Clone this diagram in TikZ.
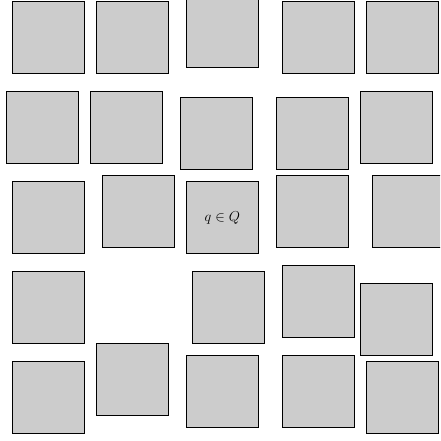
\documentclass[tikz,border=0pt]{standalone}
\begin{document}
\begin{tikzpicture}[x=1pt,y=-1pt,
  sq/.style={draw=black, fill=black!20, line width=0.8pt, minimum size=72pt, inner sep=0pt, outer sep=0pt, anchor=north west},
  lbl/.style={font=\fontsize{15}{18}\selectfont}]
\useasboundingbox (0,0) rectangle (440,441);
\clip (0,0) rectangle (440,441);
% row 1
\node[sq] (a1) at (12.3,1.7) {};
\node[sq] (a2) at (96.3,1.7) {};
\node[sq] (a3) at (186.3,-4.3) {};
\node[sq] (a4) at (282.3,1.7) {};
\node[sq] (a5) at (366.3,1.7) {};
% row 2
\node[sq] (b1) at (6.3,91.3) {};
\node[sq] (b2) at (90.3,91.3) {};
\node[sq] (b3) at (180.3,97.7) {};
\node[sq] (b4) at (276.3,97.7) {};
\node[sq] (b5) at (360.3,91.3) {};
% row 3
\node[sq] (c1) at (12.3,181.7) {};
\node[sq] (c2) at (102.3,175.7) {};
\node[sq, lbl] (c3) at (186.3,181.7) {};
\node[lbl] (q) at (c3.center) {$q\in Q$};
\node[sq] (c4) at (276.3,175.7) {};
\node[sq] (c5) at (372.3,175.7) {};
% row 4
\node[sq] (d1) at (12.3,271.7) {};
\node[sq] (d2) at (192.3,271.7) {};
\node[sq] (d3) at (282.3,265.7) {};
\node[sq] (d4) at (360.3,283.7) {};
% row 5
\node[sq] (e1) at (12.3,361.7) {};
\node[sq] (e2) at (96.3,343.7) {};
\node[sq] (e3) at (186.3,355.7) {};
\node[sq] (e4) at (282.3,355.7) {};
\node[sq] (e5) at (366.3,361.7) {};
\end{tikzpicture}
\end{document}
